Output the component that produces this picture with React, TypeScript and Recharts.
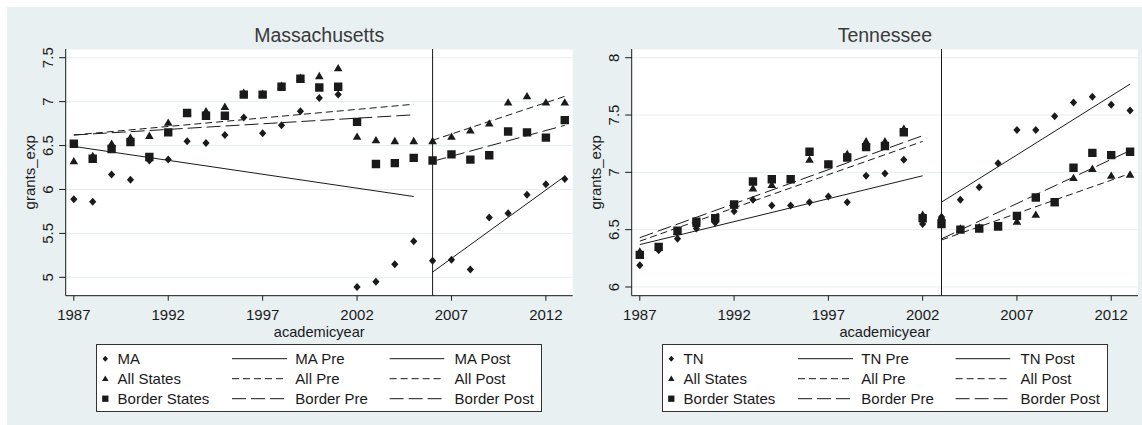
import {
  ComposedChart,
  Scatter,
  Line,
  XAxis,
  YAxis,
  CartesianGrid,
  ReferenceLine,
  Label,
} from "recharts";

// academic years shared by both panels
const YEARS = [
  1987, 1988, 1989, 1990, 1991, 1992, 1993, 1994, 1995, 1996, 1997, 1998, 1999,
  2000, 2001, 2002, 2003, 2004, 2005, 2006, 2007, 2008, 2009, 2010, 2011, 2012,
  2013,
];
const X_TICKS = [1987, 1992, 1997, 2002, 2007, 2012];

// Massachusetts
const MA_STATE = [
  5.89, 5.86, 6.17, 6.11, 6.33, 6.34, 6.55, 6.53, 6.62, 6.82, 6.64, 6.73, 6.89,
  7.04, 7.08, 4.89, 4.95, 5.15, 5.41, 5.19, 5.2, 5.09, 5.68, 5.73, 5.94, 6.06,
  6.12,
];
const MA_ALL = [
  6.32, 6.38, 6.52, 6.59, 6.61, 6.76, 6.87, 6.89, 6.94, 7.1, 7.09, 7.18, 7.27,
  7.29, 7.38, 6.6, 6.56, 6.55, 6.55, 6.55, 6.6, 6.67, 6.75, 6.99, 7.06, 6.99,
  6.99,
];
const MA_BORDER = [
  6.52, 6.35, 6.46, 6.54, 6.37, 6.65, 6.87, 6.84, 6.84, 7.08, 7.08, 7.17, 7.26,
  7.16, 7.17, 6.77, 6.29, 6.3, 6.36, 6.33, 6.4, 6.34, 6.39, 6.66, 6.65, 6.59,
  6.79,
];
const MA_PRE_YEARS = [1987, 2005];
const MA_POST_YEARS = [2006, 2013];
const MA_FIT_STATE_PRE = [6.49, 5.92];
const MA_FIT_ALL_PRE = [6.62, 6.97];
const MA_FIT_BORDER_PRE = [6.62, 6.85];
const MA_FIT_STATE_POST = [5.06, 6.15];
const MA_FIT_ALL_POST = [6.56, 7.06];
const MA_FIT_BORDER_POST = [6.32, 6.73];
const MA_Y_TICKS = [5, 5.5, 6, 6.5, 7, 7.5];

// Tennessee
const TN_STATE = [
  6.19, 6.32, 6.42, 6.51, 6.56, 6.66, 6.76, 6.71, 6.71, 6.74, 6.79, 6.74, 6.97,
  6.99, 7.11, 6.55, 6.61, 6.76, 6.87, 7.08, 7.37, 7.37, 7.49, 7.61, 7.66, 7.59,
  7.54,
];
const TN_ALL = [
  6.31, 6.34, 6.48, 6.55, 6.6, 6.71, 6.86, 6.89, 6.94, 7.11, 7.07, 7.16, 7.27,
  7.27, 7.38, 6.63, 6.61, 6.51, 6.52, 6.52, 6.57, 6.63, 6.73, 6.95, 7.03, 6.97,
  6.98,
];
const TN_BORDER = [
  6.28, 6.35, 6.49, 6.57, 6.6, 6.72, 6.92, 6.94, 6.94, 7.18, 7.07, 7.13, 7.22,
  7.23, 7.35, 6.6, 6.55, 6.5, 6.51, 6.53, 6.62, 6.78, 6.74, 7.04, 7.17, 7.15,
  7.18,
];
const TN_PRE_YEARS = [1987, 2002];
const TN_POST_YEARS = [2003, 2013];
const TN_FIT_STATE_PRE = [6.37, 6.97];
const TN_FIT_ALL_PRE = [6.4, 7.27];
const TN_FIT_BORDER_PRE = [6.43, 7.32];
const TN_FIT_STATE_POST = [6.74, 7.77];
const TN_FIT_ALL_POST = [6.41, 6.99];
const TN_FIT_BORDER_POST = [6.42, 7.19];
const TN_Y_TICKS = [6, 6.5, 7, 7.5, 8];

const FONT = '"Liberation Sans", Arial, sans-serif';
const INK = "#1a1a1a";
const BG = "#e9f0f2";
const GRID = "#e6eef0";
const SHORT_DASH = "7 4";
const LONG_DASH = "14 5";
const X_DOMAIN = [1986.57, 2013.42];

type Pt = { year: number; v: number };
const toPoints = (years: number[], vals: number[]): Pt[] =>
  years.map((year, i) => ({ year, v: vals[i] }));

const diamondPath = (cx: number, cy: number, s: number) =>
  `M${cx},${cy - 4 * s}L${cx + 3.6 * s},${cy}L${cx},${cy + 4 * s}L${cx - 3.6 * s},${cy}Z`;
const trianglePath = (cx: number, cy: number, s: number) =>
  `M${cx},${cy - 4.3 * s}L${cx + 4.3 * s},${cy + 3 * s}L${cx - 4.3 * s},${cy + 3 * s}Z`;
const squarePath = (cx: number, cy: number, s: number) =>
  `M${cx - 4.2 * s},${cy - 4.2 * s}h${8.4 * s}v${8.4 * s}h${-8.4 * s}Z`;

const markerShape =
  (fn: (cx: number, cy: number, s: number) => string) => (props: any) =>
    props.cx == null ? <g /> : <path d={fn(props.cx, props.cy, 1)} fill={INK} />;

const XTick = (props: any) => (
  <text
    x={props.x}
    y={props.y}
    dy={15.5}
    textAnchor="middle"
    fontFamily={FONT}
    fontSize={15}
    fill={INK}
  >
    {props.payload.value}
  </text>
);

const YTick = (props: any) => (
  <text
    x={props.x}
    y={props.y}
    transform={`rotate(-90 ${props.x} ${props.y})`}
    textAnchor="middle"
    fontFamily={FONT}
    fontSize={15}
    fill={INK}
  >
    {props.payload.value}
  </text>
);

const XTitle = (props: any) => {
  const vb = props.viewBox;
  return (
    <text
      x={vb.x + vb.width / 2}
      y={vb.y + 41.3}
      textAnchor="middle"
      fontFamily={FONT}
      fontSize={14.6}
      fill={INK}
    >
      academicyear
    </text>
  );
};

const YTitle = (props: any) => {
  const vb = props.viewBox;
  const x = vb.x + vb.width - 31;
  const y = vb.y + vb.height / 2;
  return (
    <text
      x={x}
      y={y}
      transform={`rotate(-90 ${x} ${y})`}
      textAnchor="middle"
      fontFamily={FONT}
      fontSize={15}
      fill={INK}
    >
      grants_exp
    </text>
  );
};

type PanelProps = {
  left: number;
  width: number;
  right: number;
  title: string;
  abbr: string;
  state: number[];
  all: number[];
  border: number[];
  cut: number;
  preYears: number[];
  postYears: number[];
  fitStatePre: number[];
  fitAllPre: number[];
  fitBorderPre: number[];
  fitStatePost: number[];
  fitAllPost: number[];
  fitBorderPost: number[];
  yDomain: number[];
  yTicks: number[];
};

const LegendBox = ({ abbr }: { abbr: string }) => {
  const rows = [
    { mark: diamondPath, name: abbr, pre: `${abbr} Pre`, post: `${abbr} Post`, dash: undefined },
    { mark: trianglePath, name: "All States", pre: "All Pre", post: "All Post", dash: SHORT_DASH },
    { mark: squarePath, name: "Border States", pre: "Border Pre", post: "Border Post", dash: LONG_DASH },
  ];
  return (
    <div
      style={{
        position: "absolute",
        left: 95.7,
        top: 344,
        width: 446,
        height: 68.3,
        boxSizing: "border-box",
        border: "1px solid #333",
        background: "#fff",
      }}
    >
      <svg width={444} height={66} style={{ display: "block" }}>
        {rows.map((r, i) => {
          const cy = 13.7 + 20 * i;
          const base = cy + 5.3;
          return (
            <g key={r.name} fontFamily={FONT} fontSize={15} fill={INK}>
              <path d={r.mark(8.3, cy, 0.75)} fill={INK} />
              <text x={20.6} y={base}>{r.name}</text>
              <line x1={135} x2={190} y1={cy} y2={cy} stroke={INK} strokeDasharray={r.dash} />
              <text x={198.3} y={base}>{r.pre}</text>
              <line x1={292.6} x2={347.3} y1={cy} y2={cy} stroke={INK} strokeDasharray={r.dash} />
              <text x={357.6} y={base}>{r.post}</text>
            </g>
          );
        })}
      </svg>
    </div>
  );
};

const Panel = (p: PanelProps) => {
  const plotLeft = 65.7;
  const plotWidth = p.width - plotLeft - p.right;
  const fits = [
    { years: p.preYears, vals: p.fitStatePre, dash: undefined },
    { years: p.preYears, vals: p.fitAllPre, dash: SHORT_DASH },
    { years: p.preYears, vals: p.fitBorderPre, dash: LONG_DASH },
    { years: p.postYears, vals: p.fitStatePost, dash: undefined },
    { years: p.postYears, vals: p.fitAllPost, dash: SHORT_DASH },
    { years: p.postYears, vals: p.fitBorderPost, dash: LONG_DASH },
  ];
  return (
    <div style={{ position: "absolute", left: p.left, top: 0, width: p.width, height: 425 }}>
      <svg
        width={p.width}
        height={60}
        style={{ position: "absolute", left: 0, top: 0 }}
      >
        <text
          x={plotLeft + plotWidth / 2}
          y={41.7}
          textAnchor="middle"
          fontFamily={FONT}
          fontSize={19.5}
          fill="#3a3a3a"
        >
          {p.title}
        </text>
      </svg>
      <div style={{ position: "absolute", left: 0, top: 0 }}>
        <ComposedChart
          width={p.width}
          height={425}
          margin={{ top: 49, right: p.right, bottom: 89.3, left: 5.7 }}
        >
          <CartesianGrid vertical={false} fill="#ffffff" stroke={GRID} />
          <XAxis
            type="number"
            dataKey="year"
            domain={X_DOMAIN}
            ticks={X_TICKS}
            allowDataOverflow
            height={40}
            tickSize={5}
            tickMargin={4}
            tick={XTick}
            axisLine={{ stroke: INK }}
            tickLine={{ stroke: INK }}
            label={<Label content={XTitle} />}
          />
          <YAxis
            type="number"
            dataKey="v"
            domain={p.yDomain}
            ticks={p.yTicks}
            allowDataOverflow
            width={60}
            tickSize={6.5}
            tickMargin={6}
            tick={YTick}
            axisLine={{ stroke: INK }}
            tickLine={{ stroke: INK }}
            label={<Label content={YTitle} />}
          />
          <ReferenceLine x={p.cut} stroke={INK} strokeWidth={1} />
          {fits.map((f, i) => (
            <Line
              key={i}
              data={toPoints(f.years, f.vals)}
              dataKey="v"
              stroke={INK}
              strokeWidth={1}
              strokeDasharray={f.dash}
              dot={false}
              activeDot={false}
              isAnimationActive={false}
            />
          ))}
          <Scatter
            data={toPoints(YEARS, p.all)}
            dataKey="v"
            shape={markerShape(trianglePath)}
            isAnimationActive={false}
          />
          <Scatter
            data={toPoints(YEARS, p.border)}
            dataKey="v"
            shape={markerShape(squarePath)}
            isAnimationActive={false}
          />
          <Scatter
            data={toPoints(YEARS, p.state)}
            dataKey="v"
            shape={markerShape(diamondPath)}
            isAnimationActive={false}
          />
        </ComposedChart>
      </div>
      <LegendBox abbr={p.abbr} />
    </div>
  );
};

export default function App() {
  return (
    <div
      style={{
        position: "absolute",
        left: 0,
        top: 0,
        width: 1142,
        height: 425,
        background: "#fff",
        overflow: "hidden",
      }}
    >
      <div
        style={{ position: "absolute", left: 7, top: 7, right: 0, bottom: 0, background: BG }}
      />
      <Panel
        left={0}
        width={580}
        right={7.3}
        title="Massachusetts"
        abbr="MA"
        state={MA_STATE}
        all={MA_ALL}
        border={MA_BORDER}
        cut={2006}
        preYears={MA_PRE_YEARS}
        postYears={MA_POST_YEARS}
        fitStatePre={MA_FIT_STATE_PRE}
        fitAllPre={MA_FIT_ALL_PRE}
        fitBorderPre={MA_FIT_BORDER_PRE}
        fitStatePost={MA_FIT_STATE_POST}
        fitAllPost={MA_FIT_ALL_POST}
        fitBorderPost={MA_FIT_BORDER_POST}
        yDomain={[4.791, 7.599]}
        yTicks={MA_Y_TICKS}
      />
      <Panel
        left={566}
        width={576}
        right={4}
        title="Tennessee"
        abbr="TN"
        state={TN_STATE}
        all={TN_ALL}
        border={TN_BORDER}
        cut={2003}
        preYears={TN_PRE_YEARS}
        postYears={TN_POST_YEARS}
        fitStatePre={TN_FIT_STATE_PRE}
        fitAllPre={TN_FIT_ALL_PRE}
        fitBorderPre={TN_FIT_BORDER_PRE}
        fitStatePost={TN_FIT_STATE_POST}
        fitAllPost={TN_FIT_ALL_POST}
        fitBorderPost={TN_FIT_BORDER_POST}
        yDomain={[5.924, 8.076]}
        yTicks={TN_Y_TICKS}
      />
    </div>
  );
}
